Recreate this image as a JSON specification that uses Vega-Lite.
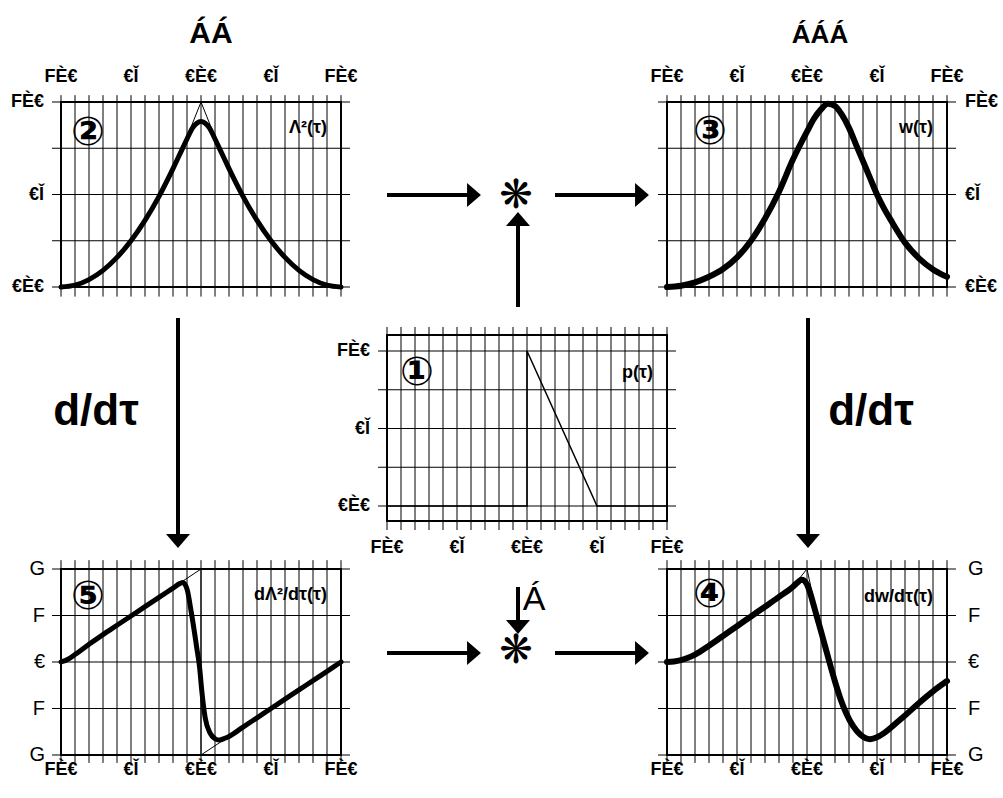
{
"$schema":"https://vega.github.io/schema/vega-lite/v6.json",
"width":1003,"height":798,"autosize":{"type":"none"},"padding":0,
"background":"white",
"config":{"view":{"stroke":null},"text":{"font":"Liberation Sans","color":"black"}},
"datasets":{
 "xg":[{"t":-1},{"t":-0.9},{"t":-0.8},{"t":-0.7},{"t":-0.6},{"t":-0.5},{"t":-0.4},{"t":-0.3},{"t":-0.2},{"t":-0.1},{"t":0},{"t":0.1},{"t":0.2},{"t":0.3},{"t":0.4},{"t":0.5},{"t":0.6},{"t":0.7},{"t":0.8},{"t":0.9},{"t":1}],
 "yg1":[{"v":0},{"v":0.25},{"v":0.5},{"v":0.75},{"v":1}],
 "yg2":[{"v":-2},{"v":-1},{"v":0},{"v":1},{"v":2}],
 "xlab":[{"t":-1,"s":"FÈ€"},{"t":-0.5,"s":"€Ǐ"},{"t":0,"s":"€È€"},{"t":0.5,"s":"€Ǐ"},{"t":1,"s":"FÈ€"}],
 "ylab1":[{"v":0,"s":"€È€"},{"v":0.5,"s":"€Ǐ"},{"v":1,"s":"FÈ€"}],
 "ylab2":[{"v":-2,"s":"G"},{"v":-1,"s":"F"},{"v":0,"s":"€"},{"v":1,"s":"F"},{"v":2,"s":"G"}],
 "lam2":[{"t":-1,"v":0},{"t":-0.9,"v":0.01},{"t":-0.8,"v":0.04},{"t":-0.7,"v":0.09},{"t":-0.6,"v":0.16},{"t":-0.5,"v":0.25},{"t":-0.4,"v":0.36},{"t":-0.3,"v":0.49},{"t":-0.2,"v":0.64},{"t":-0.15,"v":0.72},{"t":-0.1,"v":0.8},{"t":-0.06,"v":0.86},{"t":-0.03,"v":0.885},{"t":0,"v":0.895},{"t":0.03,"v":0.885},{"t":0.06,"v":0.86},{"t":0.1,"v":0.8},{"t":0.15,"v":0.72},{"t":0.2,"v":0.64},{"t":0.3,"v":0.49},{"t":0.4,"v":0.36},{"t":0.5,"v":0.25},{"t":0.6,"v":0.16},{"t":0.7,"v":0.09},{"t":0.8,"v":0.04},{"t":0.9,"v":0.01},{"t":1,"v":0}],
 "lam2thin":[{"t":-0.2,"v":0.64},{"t":-0.1,"v":0.81},{"t":0,"v":1},{"t":0.1,"v":0.81},{"t":0.2,"v":0.64}],
 "w":[{"t":-1,"v":0},{"t":-0.9,"v":0.007},{"t":-0.8,"v":0.025},{"t":-0.7,"v":0.055},{"t":-0.6,"v":0.097},{"t":-0.5,"v":0.16},{"t":-0.4,"v":0.25},{"t":-0.3,"v":0.37},{"t":-0.2,"v":0.515},{"t":-0.1,"v":0.69},{"t":0,"v":0.84},{"t":0.05,"v":0.91},{"t":0.1,"v":0.96},{"t":0.15,"v":0.99},{"t":0.2,"v":0.978},{"t":0.25,"v":0.93},{"t":0.3,"v":0.86},{"t":0.35,"v":0.77},{"t":0.4,"v":0.68},{"t":0.45,"v":0.59},{"t":0.5,"v":0.5},{"t":0.55,"v":0.425},{"t":0.6,"v":0.36},{"t":0.7,"v":0.24},{"t":0.8,"v":0.155},{"t":0.9,"v":0.095},{"t":1,"v":0.055}],
 "p":[{"i":1,"t":-1,"v":0},{"i":2,"t":0,"v":0},{"i":3,"t":0,"v":1},{"i":4,"t":0.5,"v":0},{"i":5,"t":1,"v":0}],
 "dlam":[{"t":-1,"v":0},{"t":-0.95,"v":0.06},{"t":-0.9,"v":0.16},{"t":-0.85,"v":0.27},{"t":-0.8,"v":0.38},{"t":-0.7,"v":0.59},{"t":-0.6,"v":0.79},{"t":-0.5,"v":0.99},{"t":-0.4,"v":1.19},{"t":-0.3,"v":1.39},{"t":-0.2,"v":1.59},{"t":-0.15,"v":1.69},{"t":-0.13,"v":1.71},{"t":-0.1,"v":1.57},{"t":-0.07,"v":1.08},{"t":-0.03,"v":0.3},{"t":-0.01,"v":-0.12},{"t":0.005,"v":-0.6},{"t":0.03,"v":-1.2},{"t":0.065,"v":-1.53},{"t":0.1,"v":-1.65},{"t":0.13,"v":-1.68},{"t":0.17,"v":-1.64},{"t":0.2,"v":-1.6},{"t":0.3,"v":-1.4},{"t":0.4,"v":-1.2},{"t":0.5,"v":-1},{"t":0.6,"v":-0.8},{"t":0.7,"v":-0.6},{"t":0.8,"v":-0.4},{"t":0.9,"v":-0.2},{"t":1,"v":0}],
 "dlamthin":[{"i":1,"t":-1,"v":0},{"i":2,"t":0,"v":2},{"i":3,"t":0,"v":-2},{"i":4,"t":1,"v":0}],
 "dw":[{"t":-1,"v":0},{"t":-0.95,"v":0.01},{"t":-0.9,"v":0.04},{"t":-0.85,"v":0.09},{"t":-0.8,"v":0.16},{"t":-0.7,"v":0.35},{"t":-0.6,"v":0.56},{"t":-0.5,"v":0.77},{"t":-0.4,"v":0.98},{"t":-0.3,"v":1.19},{"t":-0.2,"v":1.4},{"t":-0.1,"v":1.62},{"t":-0.06,"v":1.73},{"t":-0.04,"v":1.77},{"t":-0.02,"v":1.75},{"t":0,"v":1.67},{"t":0.021,"v":1.5},{"t":0.045,"v":1.25},{"t":0.07,"v":0.98},{"t":0.1,"v":0.66},{"t":0.13,"v":0.33},{"t":0.16,"v":0},{"t":0.2,"v":-0.42},{"t":0.24,"v":-0.8},{"t":0.28,"v":-1.1},{"t":0.33,"v":-1.38},{"t":0.38,"v":-1.56},{"t":0.42,"v":-1.64},{"t":0.45,"v":-1.66},{"t":0.5,"v":-1.62},{"t":0.55,"v":-1.53},{"t":0.6,"v":-1.41},{"t":0.65,"v":-1.28},{"t":0.7,"v":-1.15},{"t":0.8,"v":-0.88},{"t":0.9,"v":-0.63},{"t":1,"v":-0.41}],
 "dwthin":[{"t":-0.15,"v":1.52},{"t":-0.07,"v":1.74},{"t":0,"v":2},{"t":0.05,"v":1.3},{"t":0.08,"v":0.86}]
},
"resolve":{"scale":{"x":"independent","y":"independent"}},
"layer":[
 {"data":{"name":"xg"},"mark":{"type":"rule","stroke":"black","strokeWidth":1},"encoding":{"x":{"field":"t","type":"quantitative","scale":{"domain":[-1,1],"range":[61,341],"nice":false,"zero":false},"axis":null},"y":{"datum":-0.052,"type":"quantitative","scale":{"domain":[0,1],"range":[287,102],"nice":false,"zero":false},"axis":null},"y2":{"datum":1.037}}},
 {"data":{"name":"yg1"},"mark":{"type":"rule","stroke":"black","strokeWidth":1},"encoding":{"y":{"field":"v","type":"quantitative","scale":{"domain":[0,1],"range":[287,102],"nice":false,"zero":false},"axis":null},"x":{"datum":-1.064,"type":"quantitative","scale":{"domain":[-1,1],"range":[61,341],"nice":false,"zero":false},"axis":null},"x2":{"datum":1.064}}},
 {"data":{"values":[{}]},"mark":{"type":"rect","filled":false,"stroke":"black","strokeWidth":2},"encoding":{"x":{"datum":-1,"type":"quantitative","scale":{"domain":[-1,1],"range":[61,341],"nice":false,"zero":false},"axis":null},"x2":{"datum":1},"y":{"datum":0,"type":"quantitative","scale":{"domain":[0,1],"range":[287,102],"nice":false,"zero":false},"axis":null},"y2":{"datum":1}}},
 {"data":{"name":"lam2thin"},"mark":{"type":"line","stroke":"black","strokeWidth":1},"encoding":{"x":{"field":"t","type":"quantitative","scale":{"domain":[-1,1],"range":[61,341],"nice":false,"zero":false},"axis":null},"y":{"field":"v","type":"quantitative","scale":{"domain":[0,1],"range":[287,102],"nice":false,"zero":false},"axis":null}}},
 {"data":{"name":"lam2"},"mark":{"type":"line","stroke":"black","strokeWidth":5,"interpolate":"monotone","strokeCap":"round"},"encoding":{"x":{"field":"t","type":"quantitative","scale":{"domain":[-1,1],"range":[61,341],"nice":false,"zero":false},"axis":null},"y":{"field":"v","type":"quantitative","scale":{"domain":[0,1],"range":[287,102],"nice":false,"zero":false},"axis":null}}},
 {"data":{"name":"xlab"},"mark":{"type":"text","fontWeight":"bold","fontSize":18,"baseline":"middle","align":"center"},"encoding":{"x":{"field":"t","type":"quantitative","scale":{"domain":[-1,1],"range":[61,341],"nice":false,"zero":false},"axis":null},"y":{"datum":1.134,"type":"quantitative","scale":{"domain":[0,1],"range":[287,102],"nice":false,"zero":false},"axis":null},"text":{"field":"s"}}},
 {"data":{"name":"ylab1"},"mark":{"type":"text","fontWeight":"bold","fontSize":18,"baseline":"middle","align":"right"},"encoding":{"y":{"field":"v","type":"quantitative","scale":{"domain":[0,1],"range":[287,102],"nice":false,"zero":false},"axis":null},"x":{"datum":-1.121,"type":"quantitative","scale":{"domain":[-1,1],"range":[61,341],"nice":false,"zero":false},"axis":null},"text":{"field":"s"}}},
 {"data":{"values":[{}]},"mark":{"type":"text","text":"②","font":"DejaVu Sans","fontWeight":"bold","fontSize":40,"baseline":"middle","align":"center"},"encoding":{"x":{"datum":-0.807,"type":"quantitative","scale":{"domain":[-1,1],"range":[61,341],"nice":false,"zero":false},"axis":null},"y":{"datum":0.832,"type":"quantitative","scale":{"domain":[0,1],"range":[287,102],"nice":false,"zero":false},"axis":null}}},
 {"data":{"values":[{}]},"mark":{"type":"text","text":"Λ²(τ)","fontWeight":"bold","fontSize":18,"baseline":"middle","align":"right"},"encoding":{"x":{"datum":0.9,"type":"quantitative","scale":{"domain":[-1,1],"range":[61,341],"nice":false,"zero":false},"axis":null},"y":{"datum":0.862,"type":"quantitative","scale":{"domain":[0,1],"range":[287,102],"nice":false,"zero":false},"axis":null}}},

 {"data":{"name":"xg"},"mark":{"type":"rule","stroke":"black","strokeWidth":1},"encoding":{"x":{"field":"t","type":"quantitative","scale":{"domain":[-1,1],"range":[667,947],"nice":false,"zero":false},"axis":null},"y":{"datum":-0.052,"type":"quantitative","scale":{"domain":[0,1],"range":[287,102],"nice":false,"zero":false},"axis":null},"y2":{"datum":1.037}}},
 {"data":{"name":"yg1"},"mark":{"type":"rule","stroke":"black","strokeWidth":1},"encoding":{"y":{"field":"v","type":"quantitative","scale":{"domain":[0,1],"range":[287,102],"nice":false,"zero":false},"axis":null},"x":{"datum":-1.064,"type":"quantitative","scale":{"domain":[-1,1],"range":[667,947],"nice":false,"zero":false},"axis":null},"x2":{"datum":1.064}}},
 {"data":{"values":[{}]},"mark":{"type":"rect","filled":false,"stroke":"black","strokeWidth":2},"encoding":{"x":{"datum":-1,"type":"quantitative","scale":{"domain":[-1,1],"range":[667,947],"nice":false,"zero":false},"axis":null},"x2":{"datum":1},"y":{"datum":0,"type":"quantitative","scale":{"domain":[0,1],"range":[287,102],"nice":false,"zero":false},"axis":null},"y2":{"datum":1}}},
 {"data":{"name":"w"},"mark":{"type":"line","stroke":"black","strokeWidth":6,"interpolate":"monotone","strokeCap":"round"},"encoding":{"x":{"field":"t","type":"quantitative","scale":{"domain":[-1,1],"range":[667,947],"nice":false,"zero":false},"axis":null},"y":{"field":"v","type":"quantitative","scale":{"domain":[0,1],"range":[287,102],"nice":false,"zero":false},"axis":null}}},
 {"data":{"name":"xlab"},"mark":{"type":"text","fontWeight":"bold","fontSize":18,"baseline":"middle","align":"center"},"encoding":{"x":{"field":"t","type":"quantitative","scale":{"domain":[-1,1],"range":[667,947],"nice":false,"zero":false},"axis":null},"y":{"datum":1.134,"type":"quantitative","scale":{"domain":[0,1],"range":[287,102],"nice":false,"zero":false},"axis":null},"text":{"field":"s"}}},
 {"data":{"name":"ylab1"},"mark":{"type":"text","fontWeight":"bold","fontSize":18,"baseline":"middle","align":"left"},"encoding":{"y":{"field":"v","type":"quantitative","scale":{"domain":[0,1],"range":[287,102],"nice":false,"zero":false},"axis":null},"x":{"datum":1.129,"type":"quantitative","scale":{"domain":[-1,1],"range":[667,947],"nice":false,"zero":false},"axis":null},"text":{"field":"s"}}},
 {"data":{"values":[{}]},"mark":{"type":"text","text":"③","font":"DejaVu Sans","fontWeight":"bold","fontSize":40,"baseline":"middle","align":"center"},"encoding":{"x":{"datum":-0.693,"type":"quantitative","scale":{"domain":[-1,1],"range":[667,947],"nice":false,"zero":false},"axis":null},"y":{"datum":0.837,"type":"quantitative","scale":{"domain":[0,1],"range":[287,102],"nice":false,"zero":false},"axis":null}}},
 {"data":{"values":[{}]},"mark":{"type":"text","text":"w(τ)","fontWeight":"bold","fontSize":18,"baseline":"middle","align":"right"},"encoding":{"x":{"datum":0.9,"type":"quantitative","scale":{"domain":[-1,1],"range":[667,947],"nice":false,"zero":false},"axis":null},"y":{"datum":0.859,"type":"quantitative","scale":{"domain":[0,1],"range":[287,102],"nice":false,"zero":false},"axis":null}}},

 {"data":{"name":"xg"},"mark":{"type":"rule","stroke":"black","strokeWidth":1},"encoding":{"x":{"field":"t","type":"quantitative","scale":{"domain":[-1,1],"range":[387,667],"nice":false,"zero":false},"axis":null},"y":{"datum":-0.155,"type":"quantitative","scale":{"domain":[0,1],"range":[506,351],"nice":false,"zero":false},"axis":null},"y2":{"datum":1.155}}},
 {"data":{"name":"yg1"},"mark":{"type":"rule","stroke":"black","strokeWidth":1},"encoding":{"y":{"field":"v","type":"quantitative","scale":{"domain":[0,1],"range":[506,351],"nice":false,"zero":false},"axis":null},"x":{"datum":-1.064,"type":"quantitative","scale":{"domain":[-1,1],"range":[387,667],"nice":false,"zero":false},"axis":null},"x2":{"datum":1.064}}},
 {"data":{"values":[{}]},"mark":{"type":"rect","filled":false,"stroke":"black","strokeWidth":2},"encoding":{"x":{"datum":-1,"type":"quantitative","scale":{"domain":[-1,1],"range":[387,667],"nice":false,"zero":false},"axis":null},"x2":{"datum":1},"y":{"datum":-0.097,"type":"quantitative","scale":{"domain":[0,1],"range":[506,351],"nice":false,"zero":false},"axis":null},"y2":{"datum":1.103}}},
 {"data":{"name":"p"},"mark":{"type":"line","stroke":"black","strokeWidth":1.5},"encoding":{"x":{"field":"t","type":"quantitative","scale":{"domain":[-1,1],"range":[387,667],"nice":false,"zero":false},"axis":null},"y":{"field":"v","type":"quantitative","scale":{"domain":[0,1],"range":[506,351],"nice":false,"zero":false},"axis":null},"order":{"field":"i"}}},
 {"data":{"name":"xlab"},"mark":{"type":"text","fontWeight":"bold","fontSize":18,"baseline":"middle","align":"center"},"encoding":{"x":{"field":"t","type":"quantitative","scale":{"domain":[-1,1],"range":[387,667],"nice":false,"zero":false},"axis":null},"y":{"datum":-0.271,"type":"quantitative","scale":{"domain":[0,1],"range":[506,351],"nice":false,"zero":false},"axis":null},"text":{"field":"s"}}},
 {"data":{"name":"ylab1"},"mark":{"type":"text","fontWeight":"bold","fontSize":18,"baseline":"middle","align":"right"},"encoding":{"y":{"field":"v","type":"quantitative","scale":{"domain":[0,1],"range":[506,351],"nice":false,"zero":false},"axis":null},"x":{"datum":-1.121,"type":"quantitative","scale":{"domain":[-1,1],"range":[387,667],"nice":false,"zero":false},"axis":null},"text":{"field":"s"}}},
 {"data":{"values":[{}]},"mark":{"type":"text","text":"①","font":"DejaVu Sans","fontWeight":"bold","fontSize":40,"baseline":"middle","align":"center"},"encoding":{"x":{"datum":-0.786,"type":"quantitative","scale":{"domain":[-1,1],"range":[387,667],"nice":false,"zero":false},"axis":null},"y":{"datum":0.858,"type":"quantitative","scale":{"domain":[0,1],"range":[506,351],"nice":false,"zero":false},"axis":null}}},
 {"data":{"values":[{}]},"mark":{"type":"text","text":"p(τ)","fontWeight":"bold","fontSize":18,"baseline":"middle","align":"right"},"encoding":{"x":{"datum":0.9,"type":"quantitative","scale":{"domain":[-1,1],"range":[387,667],"nice":false,"zero":false},"axis":null},"y":{"datum":0.858,"type":"quantitative","scale":{"domain":[0,1],"range":[506,351],"nice":false,"zero":false},"axis":null}}},

 {"data":{"name":"xg"},"mark":{"type":"rule","stroke":"black","strokeWidth":1},"encoding":{"x":{"field":"t","type":"quantitative","scale":{"domain":[-1,1],"range":[61,341],"nice":false,"zero":false},"axis":null},"y":{"datum":-2.17,"type":"quantitative","scale":{"domain":[-2,2],"range":[755,569],"nice":false,"zero":false},"axis":null},"y2":{"datum":2.19}}},
 {"data":{"name":"yg2"},"mark":{"type":"rule","stroke":"black","strokeWidth":1},"encoding":{"y":{"field":"v","type":"quantitative","scale":{"domain":[-2,2],"range":[755,569],"nice":false,"zero":false},"axis":null},"x":{"datum":-1.064,"type":"quantitative","scale":{"domain":[-1,1],"range":[61,341],"nice":false,"zero":false},"axis":null},"x2":{"datum":1.064}}},
 {"data":{"values":[{}]},"mark":{"type":"rect","filled":false,"stroke":"black","strokeWidth":2},"encoding":{"x":{"datum":-1,"type":"quantitative","scale":{"domain":[-1,1],"range":[61,341],"nice":false,"zero":false},"axis":null},"x2":{"datum":1},"y":{"datum":-2,"type":"quantitative","scale":{"domain":[-2,2],"range":[755,569],"nice":false,"zero":false},"axis":null},"y2":{"datum":2}}},
 {"data":{"name":"dlamthin"},"mark":{"type":"line","stroke":"black","strokeWidth":1},"encoding":{"x":{"field":"t","type":"quantitative","scale":{"domain":[-1,1],"range":[61,341],"nice":false,"zero":false},"axis":null},"y":{"field":"v","type":"quantitative","scale":{"domain":[-2,2],"range":[755,569],"nice":false,"zero":false},"axis":null},"order":{"field":"i"}}},
 {"data":{"name":"dlam"},"mark":{"type":"line","stroke":"black","strokeWidth":5,"interpolate":"monotone","strokeCap":"round"},"encoding":{"x":{"field":"t","type":"quantitative","scale":{"domain":[-1,1],"range":[61,341],"nice":false,"zero":false},"axis":null},"y":{"field":"v","type":"quantitative","scale":{"domain":[-2,2],"range":[755,569],"nice":false,"zero":false},"axis":null}}},
 {"data":{"name":"xlab"},"mark":{"type":"text","fontWeight":"bold","fontSize":18,"baseline":"middle","align":"center"},"encoding":{"x":{"field":"t","type":"quantitative","scale":{"domain":[-1,1],"range":[61,341],"nice":false,"zero":false},"axis":null},"y":{"datum":-2.32,"type":"quantitative","scale":{"domain":[-2,2],"range":[755,569],"nice":false,"zero":false},"axis":null},"text":{"field":"s"}}},
 {"data":{"name":"ylab2"},"mark":{"type":"text","fontSize":20,"baseline":"middle","align":"right"},"encoding":{"y":{"field":"v","type":"quantitative","scale":{"domain":[-2,2],"range":[755,569],"nice":false,"zero":false},"axis":null},"x":{"datum":-1.114,"type":"quantitative","scale":{"domain":[-1,1],"range":[61,341],"nice":false,"zero":false},"axis":null},"text":{"field":"s"}}},
 {"data":{"values":[{}]},"mark":{"type":"text","text":"⑤","font":"DejaVu Sans","fontWeight":"bold","fontSize":40,"baseline":"middle","align":"center"},"encoding":{"x":{"datum":-0.807,"type":"quantitative","scale":{"domain":[-1,1],"range":[61,341],"nice":false,"zero":false},"axis":null},"y":{"datum":1.4,"type":"quantitative","scale":{"domain":[-2,2],"range":[755,569],"nice":false,"zero":false},"axis":null}}},
 {"data":{"values":[{}]},"mark":{"type":"text","text":"dΛ²/dτ(τ)","fontWeight":"bold","fontSize":18,"baseline":"middle","align":"right"},"encoding":{"x":{"datum":0.9,"type":"quantitative","scale":{"domain":[-1,1],"range":[61,341],"nice":false,"zero":false},"axis":null},"y":{"datum":1.44,"type":"quantitative","scale":{"domain":[-2,2],"range":[755,569],"nice":false,"zero":false},"axis":null}}},

 {"data":{"name":"xg"},"mark":{"type":"rule","stroke":"black","strokeWidth":1},"encoding":{"x":{"field":"t","type":"quantitative","scale":{"domain":[-1,1],"range":[667,947],"nice":false,"zero":false},"axis":null},"y":{"datum":-2.17,"type":"quantitative","scale":{"domain":[-2,2],"range":[755,569],"nice":false,"zero":false},"axis":null},"y2":{"datum":2.19}}},
 {"data":{"name":"yg2"},"mark":{"type":"rule","stroke":"black","strokeWidth":1},"encoding":{"y":{"field":"v","type":"quantitative","scale":{"domain":[-2,2],"range":[755,569],"nice":false,"zero":false},"axis":null},"x":{"datum":-1.064,"type":"quantitative","scale":{"domain":[-1,1],"range":[667,947],"nice":false,"zero":false},"axis":null},"x2":{"datum":1.064}}},
 {"data":{"values":[{}]},"mark":{"type":"rect","filled":false,"stroke":"black","strokeWidth":2},"encoding":{"x":{"datum":-1,"type":"quantitative","scale":{"domain":[-1,1],"range":[667,947],"nice":false,"zero":false},"axis":null},"x2":{"datum":1},"y":{"datum":-2,"type":"quantitative","scale":{"domain":[-2,2],"range":[755,569],"nice":false,"zero":false},"axis":null},"y2":{"datum":2}}},
 {"data":{"name":"dwthin"},"mark":{"type":"line","stroke":"black","strokeWidth":1},"encoding":{"x":{"field":"t","type":"quantitative","scale":{"domain":[-1,1],"range":[667,947],"nice":false,"zero":false},"axis":null},"y":{"field":"v","type":"quantitative","scale":{"domain":[-2,2],"range":[755,569],"nice":false,"zero":false},"axis":null}}},
 {"data":{"name":"dw"},"mark":{"type":"line","stroke":"black","strokeWidth":6,"interpolate":"monotone","strokeCap":"round"},"encoding":{"x":{"field":"t","type":"quantitative","scale":{"domain":[-1,1],"range":[667,947],"nice":false,"zero":false},"axis":null},"y":{"field":"v","type":"quantitative","scale":{"domain":[-2,2],"range":[755,569],"nice":false,"zero":false},"axis":null}}},
 {"data":{"name":"xlab"},"mark":{"type":"text","fontWeight":"bold","fontSize":18,"baseline":"middle","align":"center"},"encoding":{"x":{"field":"t","type":"quantitative","scale":{"domain":[-1,1],"range":[667,947],"nice":false,"zero":false},"axis":null},"y":{"datum":-2.32,"type":"quantitative","scale":{"domain":[-2,2],"range":[755,569],"nice":false,"zero":false},"axis":null},"text":{"field":"s"}}},
 {"data":{"name":"ylab2"},"mark":{"type":"text","fontSize":20,"baseline":"middle","align":"left"},"encoding":{"y":{"field":"v","type":"quantitative","scale":{"domain":[-2,2],"range":[755,569],"nice":false,"zero":false},"axis":null},"x":{"datum":1.15,"type":"quantitative","scale":{"domain":[-1,1],"range":[667,947],"nice":false,"zero":false},"axis":null},"text":{"field":"s"}}},
 {"data":{"values":[{}]},"mark":{"type":"text","text":"④","font":"DejaVu Sans","fontWeight":"bold","fontSize":40,"baseline":"middle","align":"center"},"encoding":{"x":{"datum":-0.693,"type":"quantitative","scale":{"domain":[-1,1],"range":[667,947],"nice":false,"zero":false},"axis":null},"y":{"datum":1.44,"type":"quantitative","scale":{"domain":[-2,2],"range":[755,569],"nice":false,"zero":false},"axis":null}}},
 {"data":{"values":[{}]},"mark":{"type":"text","text":"dw/dτ(τ)","fontWeight":"bold","fontSize":18,"baseline":"middle","align":"right"},"encoding":{"x":{"datum":0.9,"type":"quantitative","scale":{"domain":[-1,1],"range":[667,947],"nice":false,"zero":false},"axis":null},"y":{"datum":1.4,"type":"quantitative","scale":{"domain":[-2,2],"range":[755,569],"nice":false,"zero":false},"axis":null}}},

 {"data":{"values":[{}]},"mark":{"type":"rule","stroke":"black","strokeWidth":4},"encoding":{"x":{"datum":387,"type":"quantitative","scale":{"domain":[0,1003],"range":[0,1003],"nice":false,"zero":false},"axis":null},"y":{"datum":195,"type":"quantitative","scale":{"domain":[0,798],"range":[0,798],"nice":false,"zero":false},"axis":null},"x2":{"datum":470},"y2":{"datum":195}}},
 {"data":{"values":[{}]},"mark":{"type":"rule","stroke":"black","strokeWidth":4},"encoding":{"x":{"datum":555,"type":"quantitative","scale":{"domain":[0,1003],"range":[0,1003],"nice":false,"zero":false},"axis":null},"y":{"datum":195,"type":"quantitative","scale":{"domain":[0,798],"range":[0,798],"nice":false,"zero":false},"axis":null},"x2":{"datum":637},"y2":{"datum":195}}},
 {"data":{"values":[{}]},"mark":{"type":"rule","stroke":"black","strokeWidth":4},"encoding":{"x":{"datum":518,"type":"quantitative","scale":{"domain":[0,1003],"range":[0,1003],"nice":false,"zero":false},"axis":null},"y":{"datum":307,"type":"quantitative","scale":{"domain":[0,798],"range":[0,798],"nice":false,"zero":false},"axis":null},"x2":{"datum":518},"y2":{"datum":224}}},
 {"data":{"values":[{}]},"mark":{"type":"rule","stroke":"black","strokeWidth":4},"encoding":{"x":{"datum":178,"type":"quantitative","scale":{"domain":[0,1003],"range":[0,1003],"nice":false,"zero":false},"axis":null},"y":{"datum":318,"type":"quantitative","scale":{"domain":[0,798],"range":[0,798],"nice":false,"zero":false},"axis":null},"x2":{"datum":178},"y2":{"datum":536}}},
 {"data":{"values":[{}]},"mark":{"type":"rule","stroke":"black","strokeWidth":4},"encoding":{"x":{"datum":808,"type":"quantitative","scale":{"domain":[0,1003],"range":[0,1003],"nice":false,"zero":false},"axis":null},"y":{"datum":318,"type":"quantitative","scale":{"domain":[0,798],"range":[0,798],"nice":false,"zero":false},"axis":null},"x2":{"datum":808},"y2":{"datum":536}}},
 {"data":{"values":[{}]},"mark":{"type":"rule","stroke":"black","strokeWidth":4},"encoding":{"x":{"datum":387,"type":"quantitative","scale":{"domain":[0,1003],"range":[0,1003],"nice":false,"zero":false},"axis":null},"y":{"datum":653,"type":"quantitative","scale":{"domain":[0,798],"range":[0,798],"nice":false,"zero":false},"axis":null},"x2":{"datum":470},"y2":{"datum":653}}},
 {"data":{"values":[{}]},"mark":{"type":"rule","stroke":"black","strokeWidth":4},"encoding":{"x":{"datum":555,"type":"quantitative","scale":{"domain":[0,1003],"range":[0,1003],"nice":false,"zero":false},"axis":null},"y":{"datum":653,"type":"quantitative","scale":{"domain":[0,798],"range":[0,798],"nice":false,"zero":false},"axis":null},"x2":{"datum":637},"y2":{"datum":653}}},
 {"data":{"values":[{}]},"mark":{"type":"rule","stroke":"black","strokeWidth":4},"encoding":{"x":{"datum":518,"type":"quantitative","scale":{"domain":[0,1003],"range":[0,1003],"nice":false,"zero":false},"axis":null},"y":{"datum":587,"type":"quantitative","scale":{"domain":[0,798],"range":[0,798],"nice":false,"zero":false},"axis":null},"x2":{"datum":518},"y2":{"datum":622}}},

 {"data":{"values":[{}]},"mark":{"type":"point","shape":"M-0.58,-1L0.58,0L-0.58,1Z","filled":true,"fill":"black","strokeWidth":0,"opacity":1,"size":576},"encoding":{"x":{"datum":474,"type":"quantitative","scale":{"domain":[0,1003],"range":[0,1003],"nice":false,"zero":false},"axis":null},"y":{"datum":195,"type":"quantitative","scale":{"domain":[0,798],"range":[0,798],"nice":false,"zero":false},"axis":null}}},
 {"data":{"values":[{}]},"mark":{"type":"point","shape":"M-0.58,-1L0.58,0L-0.58,1Z","filled":true,"fill":"black","strokeWidth":0,"opacity":1,"size":576},"encoding":{"x":{"datum":642,"type":"quantitative","scale":{"domain":[0,1003],"range":[0,1003],"nice":false,"zero":false},"axis":null},"y":{"datum":195,"type":"quantitative","scale":{"domain":[0,798],"range":[0,798],"nice":false,"zero":false},"axis":null}}},
 {"data":{"values":[{}]},"mark":{"type":"point","shape":"M-0.58,-1L0.58,0L-0.58,1Z","filled":true,"fill":"black","strokeWidth":0,"opacity":1,"size":576},"encoding":{"x":{"datum":474,"type":"quantitative","scale":{"domain":[0,1003],"range":[0,1003],"nice":false,"zero":false},"axis":null},"y":{"datum":653,"type":"quantitative","scale":{"domain":[0,798],"range":[0,798],"nice":false,"zero":false},"axis":null}}},
 {"data":{"values":[{}]},"mark":{"type":"point","shape":"M-0.58,-1L0.58,0L-0.58,1Z","filled":true,"fill":"black","strokeWidth":0,"opacity":1,"size":576},"encoding":{"x":{"datum":642,"type":"quantitative","scale":{"domain":[0,1003],"range":[0,1003],"nice":false,"zero":false},"axis":null},"y":{"datum":653,"type":"quantitative","scale":{"domain":[0,798],"range":[0,798],"nice":false,"zero":false},"axis":null}}},
 {"data":{"values":[{}]},"mark":{"type":"point","shape":"M-1,0.58L0,-0.58L1,0.58Z","filled":true,"fill":"black","strokeWidth":0,"opacity":1,"size":576},"encoding":{"x":{"datum":518,"type":"quantitative","scale":{"domain":[0,1003],"range":[0,1003],"nice":false,"zero":false},"axis":null},"y":{"datum":219,"type":"quantitative","scale":{"domain":[0,798],"range":[0,798],"nice":false,"zero":false},"axis":null}}},
 {"data":{"values":[{}]},"mark":{"type":"point","shape":"M-1,-0.58L0,0.58L1,-0.58Z","filled":true,"fill":"black","strokeWidth":0,"opacity":1,"size":576},"encoding":{"x":{"datum":178,"type":"quantitative","scale":{"domain":[0,1003],"range":[0,1003],"nice":false,"zero":false},"axis":null},"y":{"datum":541,"type":"quantitative","scale":{"domain":[0,798],"range":[0,798],"nice":false,"zero":false},"axis":null}}},
 {"data":{"values":[{}]},"mark":{"type":"point","shape":"M-1,-0.58L0,0.58L1,-0.58Z","filled":true,"fill":"black","strokeWidth":0,"opacity":1,"size":576},"encoding":{"x":{"datum":808,"type":"quantitative","scale":{"domain":[0,1003],"range":[0,1003],"nice":false,"zero":false},"axis":null},"y":{"datum":541,"type":"quantitative","scale":{"domain":[0,798],"range":[0,798],"nice":false,"zero":false},"axis":null}}},
 {"data":{"values":[{}]},"mark":{"type":"point","shape":"M-1,-0.58L0,0.58L1,-0.58Z","filled":true,"fill":"black","strokeWidth":0,"opacity":1,"size":576},"encoding":{"x":{"datum":518,"type":"quantitative","scale":{"domain":[0,1003],"range":[0,1003],"nice":false,"zero":false},"axis":null},"y":{"datum":627,"type":"quantitative","scale":{"domain":[0,798],"range":[0,798],"nice":false,"zero":false},"axis":null}}},

 {"data":{"values":[{}]},"mark":{"type":"text","text":"❋","font":"DejaVu Sans","fontSize":40,"baseline":"middle","align":"center"},"encoding":{"x":{"datum":516,"type":"quantitative","scale":{"domain":[0,1003],"range":[0,1003],"nice":false,"zero":false},"axis":null},"y":{"datum":196,"type":"quantitative","scale":{"domain":[0,798],"range":[0,798],"nice":false,"zero":false},"axis":null}}},
 {"data":{"values":[{}]},"mark":{"type":"text","text":"❋","font":"DejaVu Sans","fontSize":40,"baseline":"middle","align":"center"},"encoding":{"x":{"datum":516,"type":"quantitative","scale":{"domain":[0,1003],"range":[0,1003],"nice":false,"zero":false},"axis":null},"y":{"datum":651,"type":"quantitative","scale":{"domain":[0,798],"range":[0,798],"nice":false,"zero":false},"axis":null}}},
 {"data":{"values":[{}]},"mark":{"type":"text","text":"d/dτ","fontWeight":"bold","fontSize":44,"baseline":"middle","align":"center"},"encoding":{"x":{"datum":96,"type":"quantitative","scale":{"domain":[0,1003],"range":[0,1003],"nice":false,"zero":false},"axis":null},"y":{"datum":412,"type":"quantitative","scale":{"domain":[0,798],"range":[0,798],"nice":false,"zero":false},"axis":null}}},
 {"data":{"values":[{}]},"mark":{"type":"text","text":"d/dτ","fontWeight":"bold","fontSize":44,"baseline":"middle","align":"center"},"encoding":{"x":{"datum":871,"type":"quantitative","scale":{"domain":[0,1003],"range":[0,1003],"nice":false,"zero":false},"axis":null},"y":{"datum":412,"type":"quantitative","scale":{"domain":[0,798],"range":[0,798],"nice":false,"zero":false},"axis":null}}},
 {"data":{"values":[{}]},"mark":{"type":"text","text":"ÁÁ","fontWeight":"bold","fontSize":30,"baseline":"alphabetic","align":"center"},"encoding":{"x":{"datum":211,"type":"quantitative","scale":{"domain":[0,1003],"range":[0,1003],"nice":false,"zero":false},"axis":null},"y":{"datum":43,"type":"quantitative","scale":{"domain":[0,798],"range":[0,798],"nice":false,"zero":false},"axis":null}}},
 {"data":{"values":[{}]},"mark":{"type":"text","text":"ÁÁÁ","fontWeight":"bold","fontSize":26,"baseline":"alphabetic","align":"center"},"encoding":{"x":{"datum":820,"type":"quantitative","scale":{"domain":[0,1003],"range":[0,1003],"nice":false,"zero":false},"axis":null},"y":{"datum":43,"type":"quantitative","scale":{"domain":[0,798],"range":[0,798],"nice":false,"zero":false},"axis":null}}},
 {"data":{"values":[{}]},"mark":{"type":"text","text":"Á","fontSize":34,"baseline":"alphabetic","align":"center"},"encoding":{"x":{"datum":534,"type":"quantitative","scale":{"domain":[0,1003],"range":[0,1003],"nice":false,"zero":false},"axis":null},"y":{"datum":610,"type":"quantitative","scale":{"domain":[0,798],"range":[0,798],"nice":false,"zero":false},"axis":null}}}
]
}
